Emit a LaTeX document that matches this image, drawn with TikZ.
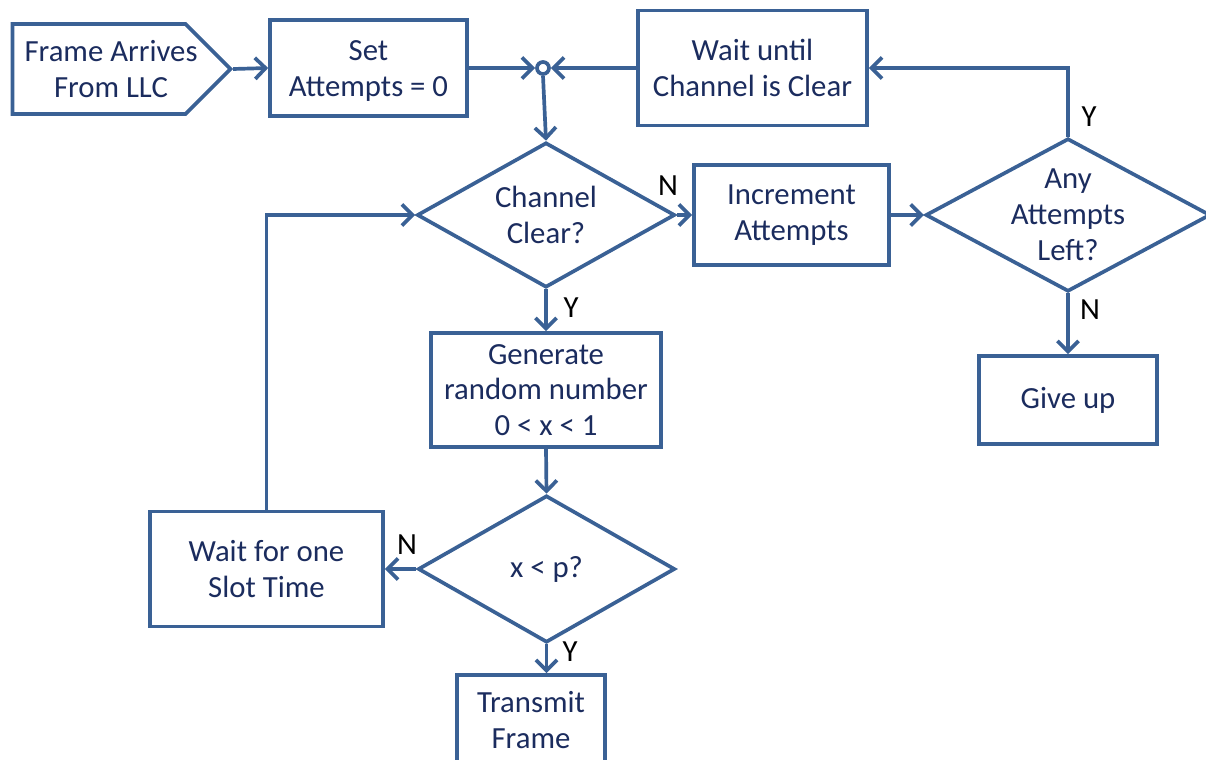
\documentclass[tikz,border=0pt]{standalone}
\usepackage{fontspec}
\setmainfont{Carlito}
\usepackage{tikz}
\usetikzlibrary{shapes.geometric,shapes.symbols,arrows.meta}
\definecolor{linecol}{HTML}{3A6195}
\definecolor{textcol}{HTML}{1B2C5E}
\newcommand{\flowfont}{\fontsize{17.5}{20.4}\selectfont}

\begin{document}
\begin{tikzpicture}[x=0.02cm,y=-0.02cm,
    box/.style={rectangle, draw=linecol, line width=2.1pt, align=center, text=textcol, font=\flowfont, inner sep=0pt},
    decision/.style={diamond, draw=linecol, line width=2.1pt, align=center, text=textcol, font=\flowfont, inner sep=0pt},
    flow/.style={draw=linecol, line width=2.1pt, -{Straight Barb[length=6pt,width=12pt]}},
    yn/.style={font=\flowfont, text=black}]
  \useasboundingbox (0,0) rectangle (1206,760);
  \clip (0,0) rectangle (1206,760);
  % top row
  \node[name=frame, signal, signal to=east, signal pointer angle=90, draw=linecol, line width=2.1pt, inner sep=0pt, minimum width=4.36cm, minimum height=1.8cm] at (99,69) {};
  \node[name=frametext, align=center, text=textcol, font=\flowfont, inner sep=0pt] at (111,69) {Frame Arrives\\From LLC};
  \node[name=set, box, minimum width=3.94cm, minimum height=1.92cm] at (368.5,68) {};
  \node[name=settext, align=center, text=textcol, font=\flowfont, inner sep=0pt] at (368.5,71) {Set\\Attempts = 0};
  \node[name=junc, circle, draw=linecol, line width=2.1pt, fill=white, minimum size=0.24cm, inner sep=0pt] at (543,68) {};
  \node[name=waitclear, box, minimum width=4.58cm, minimum height=2.3cm] at (752.5,68) {Wait until\\Channel is Clear};
  % middle row
  \node[name=chan, decision, minimum width=5.16cm, minimum height=2.9cm, aspect=1.78] at (546,215) {Channel\\Clear?};
  \node[name=incr, box, minimum width=3.9cm, minimum height=2.0cm] at (791.5,215) {Increment\\Attempts};
  \node[name=any, decision, minimum width=5.5cm, minimum height=2.96cm, aspect=1.86] at (1068,215) {Any\\Attempts\\Left?};
  \node[name=giveup, box, minimum width=3.56cm, minimum height=1.76cm] at (1068,400) {Give up};
  % lower part
  \node[name=gen, box, minimum width=4.6cm, minimum height=2.28cm] at (546,390) {Generate\\random number\\0 < x < 1};
  \node[name=xlp, decision, minimum width=5.14cm, minimum height=2.94cm, aspect=1.75] at (546.5,569) {x < p?};
  \node[name=slot, box, minimum width=4.66cm, minimum height=2.3cm] at (266.5,569) {Wait for one\\Slot Time};
  \node[name=trans, box, minimum width=2.96cm, minimum height=1.8cm] at (531,720) {Transmit\\Frame};

  \draw[flow] (frame.east) -- (set.west);
  \draw[flow] (set.east) -- (junc.west);
  \draw[flow] (waitclear.west) -- (junc.east);
  \draw[flow] (junc.south) -- (chan.north);
  \draw[flow] (chan.east) -- (incr.west);
  \draw[flow] (incr.east) -- (any.west);
  \draw[flow] (any.north) |- (waitclear.east);
  \draw[flow] (any.south) -- (giveup.north);
  \draw[flow] (chan.south) -- (gen.north);
  \draw[flow] (gen.south) -- (xlp.north);
  \draw[flow] (xlp.west) -- (slot.east);
  \draw[flow] (slot.north) |- (chan.west);
  \draw[flow] (xlp.south) -- (xlp.south |- trans.north);

  % Y / N labels
  \node[name=lchann, yn] at (668,186) {N};
  \node[name=lanyy, yn] at (1089,117) {Y};
  \node[name=lanyn, yn] at (1090,310) {N};
  \node[name=lchany, yn] at (571,308) {Y};
  \node[name=lxlpn, yn] at (407,545) {N};
  \node[name=lxlpy, yn] at (570,652) {Y};
\end{tikzpicture}
\end{document}
